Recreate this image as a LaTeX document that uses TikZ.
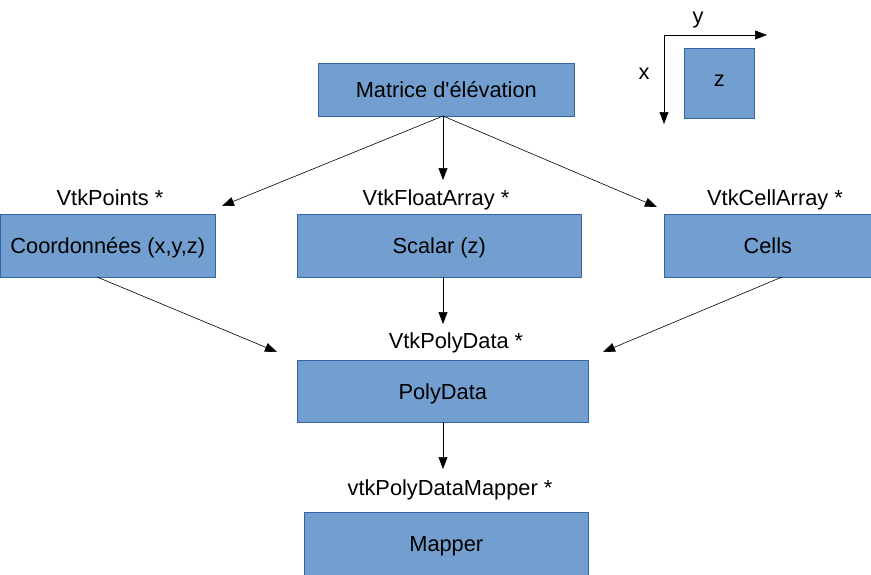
\documentclass[tikz,border=0pt]{standalone}
\usepackage{fontspec}
\setmainfont{Liberation Sans}
\usetikzlibrary{arrows.meta,calc}
\definecolor{boxfill}{HTML}{729FCF}
\definecolor{boxline}{HTML}{3465A4}
\begin{document}
\begin{tikzpicture}[x=1pt,y=-1pt,
  font=\fontsize{21.8}{26}\selectfont,
  every node/.style={text height=15.6pt,text depth=0pt},
  box/.style={draw=boxline,line width=0.6pt,fill=boxfill,inner sep=0pt,anchor=north west},
  lbl/.style={inner sep=0pt,text=black},
  conn/.style={draw=black,line width=0.6pt,-{Triangle[length=12pt,width=9pt]}}]
\useasboundingbox (0,0) rectangle (871,574);
% boxes
\node[box,minimum width=256pt,minimum height=53pt] (mat) at (318,63) {Matrice d\textquotesingle élévation};
\node[box,minimum width=70pt,minimum height=70pt,text height=6pt] (zbox) at (684,48) {z};
\node[box,minimum width=215pt,minimum height=63pt] (coord) at (0,214) {Coordonnées (x,y,z)};
\node[box,minimum width=284pt,minimum height=63pt] (scal) at (297,214) {Scalar (z)};
\node[box,minimum width=207pt,minimum height=63pt] (cells) at (664,214) {Cells};
\node[box,minimum width=291pt,minimum height=62pt] (poly) at (297,360) {PolyData};
\node[box,minimum width=284pt,minimum height=63pt] (mapper) at (304,512) {Mapper};
% labels
\node[lbl] (lpts) at (110,197.5) {VtkPoints *};
\node[lbl] (lflt) at (436,197.5) {VtkFloatArray *};
\node[lbl] (lcell) at (775,197.5) {VtkCellArray *};
\node[lbl] (lpoly) at (456,341) {VtkPolyData *};
\node[lbl] (lmap) at (450,488) {vtkPolyDataMapper *};
\node[lbl] (ly) at (698,16) {y};
\node[lbl] (lx) at (644,71.5) {x};
% coordinates
\coordinate (matS) at (443,116);
\coordinate (t1) at (222,206);
\coordinate (t2) at (443,180);
\coordinate (t3) at (657,207);
\coordinate (cS) at (97,277);
\coordinate (t4) at (277,352);
\coordinate (sS) at (443,277);
\coordinate (t5) at (443,324);
\coordinate (ceS) at (782,277);
\coordinate (t6) at (603,352);
\coordinate (pS) at (443,422);
\coordinate (t7) at (443,469);
\coordinate (org) at (664,35);
\coordinate (ay) at (767,35);
\coordinate (ax) at (664,124);
% connectors
\draw[conn] (matS) -- (t1);
\draw[conn] (matS) -- (t2);
\draw[conn] (matS) -- (t3);
\draw[conn] (cS) -- (t4);
\draw[conn] (sS) -- (t5);
\draw[conn] (ceS) -- (t6);
\draw[conn] (pS) -- (t7);
\draw[conn] (org) -- (ay);
\draw[conn] (org) -- (ax);
\end{tikzpicture}
\end{document}
